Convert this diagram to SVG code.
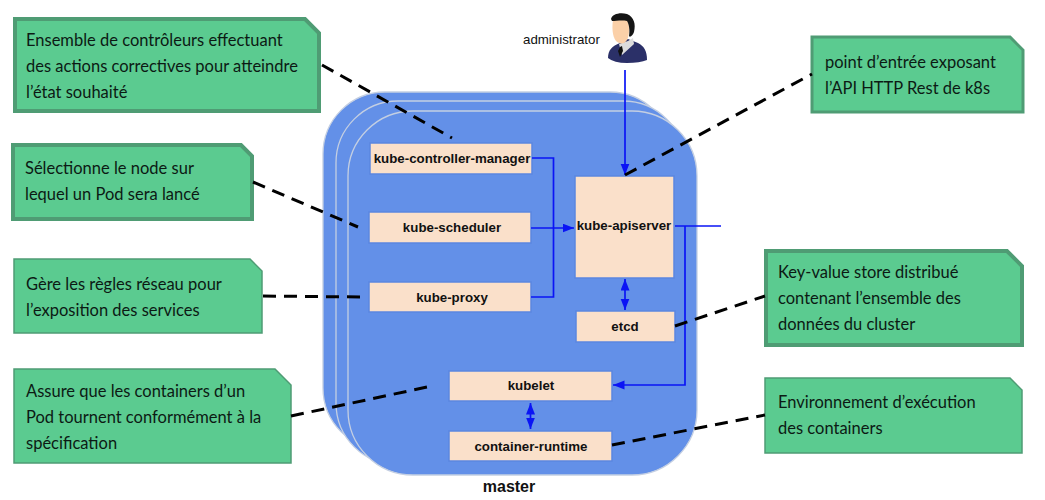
<svg xmlns="http://www.w3.org/2000/svg" width="1045" height="500" viewBox="0 0 1045 500">
<style>
.stack{fill:#6390e8;stroke:#c4cfe2;stroke-width:1.3}
.box{fill:#fae0ca;stroke:#5b86e0;stroke-width:1.5}
.lbl{font-family:"Liberation Sans",Arial,sans-serif;font-weight:700;font-size:13.3px;fill:#111;text-anchor:middle}
.note{fill:#5bcb90;stroke:#4f9c74}
.nt{font-family:"Lato","Noto Sans",sans-serif;font-size:16.5px;fill:#0c1a14}
.blue{fill:none;stroke:#0a14f5;stroke-width:1.7}
.dash{fill:none;stroke:#000;stroke-width:3;stroke-dasharray:13 8}
</style>
<defs>
<marker id="ah" markerUnits="userSpaceOnUse" markerWidth="12" markerHeight="10" refX="11.500" refY="4.500" orient="auto-start-reverse"><path d="M0 0L11.500 4.500L0 9Z" fill="#0a14f5"/></marker>
</defs>
<rect width="1045" height="500" fill="#fff"/>
<g id="master-stack">
<rect class="stack" x="323" y="92" width="349" height="358" rx="62"/>
<rect class="stack" x="336" y="101" width="349" height="364" rx="62"/>
<rect class="stack" x="348" y="111" width="349" height="364" rx="65"/>
</g>
<g id="master-label"><text x="509" y="492" font-family="'Liberation Sans',Arial,sans-serif" font-weight="700" font-size="16" fill="#111" text-anchor="middle">master</text></g>
<g id="kube-controller-manager"><rect class="box" x="370" y="143" width="162" height="31"/><text class="lbl" x="452" y="163">kube-controller-manager</text></g>
<g id="kube-scheduler"><rect class="box" x="369" y="212" width="162" height="31"/><text class="lbl" x="452" y="232">kube-scheduler</text></g>
<g id="kube-proxy"><rect class="box" x="369" y="282" width="162" height="30"/><text class="lbl" x="452" y="302">kube-proxy</text></g>
<g id="kube-apiserver"><rect class="box" x="575" y="176" width="99" height="102"/><text class="lbl" x="624" y="230">kube-apiserver</text></g>
<g id="etcd"><rect class="box" x="576" y="311" width="99" height="31"/><text class="lbl" x="625" y="331">etcd</text></g>
<g id="kubelet"><rect class="box" x="449" y="371" width="163" height="30"/><text class="lbl" x="531" y="390">kubelet</text></g>
<g id="container-runtime"><rect class="box" x="449" y="431" width="163" height="30"/><text class="lbl" x="531" y="451">container-runtime</text></g>
<g id="administrator">
<text x="523" y="44" font-family="'Liberation Sans',Arial,sans-serif" font-size="13.300" fill="#111">administrator</text>
<path d="M608 58C608 50 612 46 620 43L628 39L638 43C644 46 647 51 647 60Q640 63 627 63Q614 63 608 58Z" fill="#2b3068"/>
<path d="M619 44L628 41L633 38L634 44L622 55Z" fill="#dcdcdc"/>
<path d="M620 47L622 46L623 51L620 57L618 51Z" fill="#111"/>
<path d="M613 20C615 18 624 16 628 21C629 25 630 34 627 40C624 45 619 44 616 41C612 36 612 26 613 20Z" fill="#fbd0a8"/>
<path d="M611 19C612 14 620 12 627 14C634 17 636 24 634 32C633 35 630 38 629 36C630 30 629 24 627 21C622 20 616 21 612 21Z" fill="#151515"/>
</g>
<g id="note-controller"><path class="note" stroke-width="4" d="M15 19H305L319 33V111H15Z"/><text class="nt" x="26" y="46">Ensemble de contrôleurs effectuant</text><text class="nt" x="26" y="72">des actions correctives pour atteindre</text><text class="nt" x="26" y="98">l’état souhaité</text></g>
<g id="note-scheduler"><path class="note" stroke-width="4" d="M13 145H241L252 156V219H13Z"/><text class="nt" x="25" y="174">Sélectionne le node sur</text><text class="nt" x="25" y="200">lequel un Pod sera lancé</text></g>
<g id="note-proxy"><path class="note" stroke-width="1.5" d="M14 259H250L262 271V333H14Z"/><text class="nt" x="26" y="290">Gère les règles réseau pour</text><text class="nt" x="26" y="316">l’exposition des services</text></g>
<g id="note-kubelet"><path class="note" stroke-width="1.5" d="M14 369H275L291 385V463H14Z"/><text class="nt" x="26" y="397">Assure que les containers d’un</text><text class="nt" x="26" y="423">Pod tournent conformément à la</text><text class="nt" x="26" y="449">spécification</text></g>
<g id="note-apiserver"><path class="note" stroke-width="3" d="M812 37H1010L1023 50V112H812Z"/><text class="nt" x="825" y="68">point d’entrée exposant</text><text class="nt" x="825" y="94">l’API HTTP Rest de k8s</text></g>
<g id="note-etcd"><path class="note" stroke-width="4" d="M766 251H1007L1022 266V345H766Z"/><text class="nt" x="778" y="278">Key-value store distribué</text><text class="nt" x="778" y="304">contenant l’ensemble des</text><text class="nt" x="778" y="330">données du cluster</text></g>
<g id="note-runtime"><path class="note" stroke-width="1.5" d="M765 378H1010L1022 390V453H765Z"/><text class="nt" x="778" y="408">Environnement d’exécution</text><text class="nt" x="778" y="434">des containers</text></g>
<g id="connectors">
<path class="blue" d="M532 158H553.500V297H531"/>
<path class="blue" d="M531 228H574" marker-end="url(#ah)"/>
<path class="blue" d="M625 70V175" marker-end="url(#ah)"/>
<path class="blue" d="M675 226H721"/>
<path class="blue" d="M685 226V385H613" marker-end="url(#ah)"/>
<path class="blue" d="M625 279V310" marker-start="url(#ah)" marker-end="url(#ah)"/>
<path class="blue" d="M530.500 403V429" marker-start="url(#ah)" marker-end="url(#ah)"/>
<path class="dash" d="M322 65L452 138"/>
<path class="dash" d="M253 182L358 227"/>
<path class="dash" d="M263 296L360 297"/>
<path class="dash" d="M291 416L432 386"/>
<path class="dash" d="M612 445L765 415"/>
<path class="dash" d="M675 326L765 296"/>
<path class="dash" d="M625 175L812 74"/>
</g>
</svg>
